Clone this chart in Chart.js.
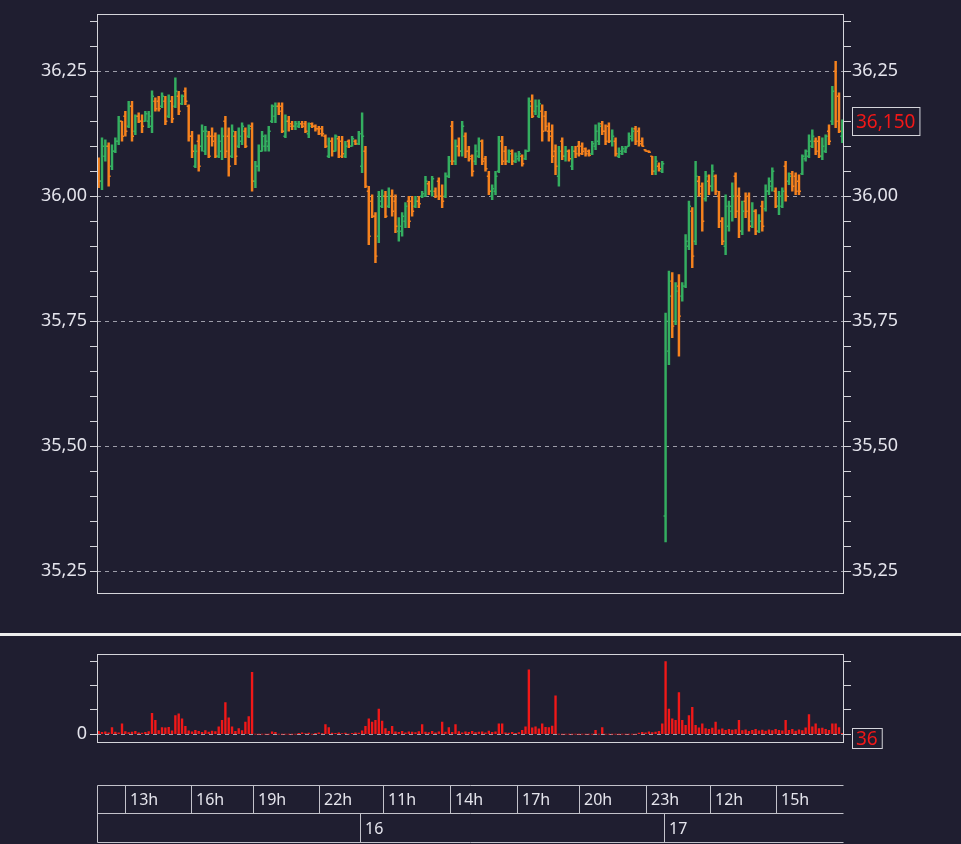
<!DOCTYPE html>
<html>
<head>
<meta charset="utf-8">
<title>Price / Volume</title>
<script src="https://cdn.jsdelivr.net/npm/chart.js@4.4.1/dist/chart.umd.min.js"></script>
<style>
  html, body { margin:0; padding:0; background:#1f1e30; }
  body { width:961px; height:844px; position:relative; overflow:hidden; }
  .wrap { position:absolute; left:0; width:961px; }
  #priceWrap { top:0; height:620px; }
  #volWrap { top:640px; height:204px; }
  #sep { position:absolute; left:0; top:633px; width:961px; height:3px; background:#ededed; }
</style>
</head>
<body>
<div class="wrap" id="priceWrap"><canvas id="price"></canvas></div>
<div id="sep"></div>
<div class="wrap" id="volWrap"><canvas id="vol"></canvas></div>
<script>
// ---------------- DATA ----------------
const opens = [
36.07,36.03,36.08,36.10,36.06,36.09,36.11,36.15,36.16,36.14,
36.18,36.13,36.16,36.15,36.15,36.15,36.14,36.19,36.19,36.18,
36.19,36.16,36.19,36.18,36.20,36.185,36.21,36.18,36.12,36.06,
36.11,36.10,36.09,36.12,36.12,36.12,36.08,36.09,36.15,36.12,
36.08,36.12,36.10,36.11,36.13,36.12,36.14,36.03,36.06,36.09,
36.10,36.10,36.15,36.16,36.18,36.18,36.12,36.15,36.145,36.14,
36.14,36.145,36.145,36.125,36.145,36.14,36.135,36.135,36.12,36.08,
36.11,36.09,36.115,36.11,36.08,36.11,36.10,36.11,36.105,36.06,
36.09,36.01,35.99,35.96,35.92,35.98,36.00,35.98,36.00,35.99,
35.93,35.93,35.95,35.99,35.99,35.98,35.99,36.00,36.00,36.025,
36.01,36.01,36.03,36.00,36.00,36.04,36.14,36.07,36.10,36.09,
36.12,36.09,36.08,36.07,36.08,36.11,36.075,36.04,36.00,36.01,
36.05,36.11,36.09,36.07,36.09,36.07,36.075,36.08,36.075,36.09,
36.19,36.17,36.16,36.17,36.16,36.13,36.13,36.09,36.04,36.11,
36.08,36.09,36.06,36.09,36.10,36.10,36.095,36.09,36.085,36.10,
36.11,36.145,36.13,36.14,36.11,36.11,36.08,36.085,36.09,36.10,
36.115,36.135,36.13,36.11,36.093,36.09,36.08,36.05,36.06,36.05,
35.36,35.69,35.83,35.75,35.82,35.80,35.82,35.90,35.97,35.91,
36.03,36.02,35.995,36.03,36.02,36.04,36.00,35.95,35.90,35.94,
35.97,36.04,36.00,35.93,35.99,36.00,35.95,35.97,35.93,35.98,
35.975,36.01,36.02,36.01,35.98,35.98,36.06,36.03,36.045,36.04,
36.03,36.045,36.075,36.08,36.10,36.11,36.11,36.08,36.09,36.13,
36.15,36.25,36.20,36.12
];
const highs = [
36.077,36.117,36.113,36.107,36.103,36.117,36.160,36.150,36.170,36.190,
36.190,36.163,36.167,36.163,36.170,36.170,36.211,36.197,36.200,36.207,
36.200,36.203,36.200,36.237,36.210,36.203,36.217,36.183,36.130,36.103,
36.123,36.143,36.140,36.130,36.137,36.127,36.123,36.137,36.160,36.137,
36.143,36.130,36.137,36.147,36.137,36.143,36.147,36.070,36.103,36.130,
36.123,36.140,36.183,36.187,36.187,36.187,36.163,36.160,36.150,36.150,
36.150,36.150,36.150,36.147,36.147,36.143,36.140,36.140,36.123,36.117,
36.117,36.123,36.120,36.120,36.110,36.113,36.120,36.113,36.130,36.167,
36.100,36.020,36.003,35.967,36.010,36.013,36.010,36.017,36.013,36.003,
35.957,35.967,35.987,36.000,36.000,36.000,36.000,36.010,36.040,36.030,
36.040,36.017,36.037,36.023,36.047,36.080,36.150,36.113,36.117,36.150,
36.127,36.100,36.083,36.103,36.117,36.113,36.080,36.050,36.023,36.050,
36.120,36.120,36.100,36.093,36.093,36.087,36.090,36.083,36.093,36.197,
36.203,36.193,36.193,36.183,36.170,36.147,36.143,36.103,36.100,36.117,
36.100,36.093,36.100,36.100,36.110,36.107,36.097,36.093,36.110,36.143,
36.147,36.150,36.143,36.147,36.133,36.117,36.097,36.100,36.100,36.127,
36.137,36.140,36.137,36.117,36.093,36.091,36.080,36.080,36.067,36.070,
35.766,35.850,35.847,35.827,35.843,35.827,35.923,35.990,35.977,36.070,
36.040,36.027,36.050,36.043,36.063,36.043,36.010,35.957,36.003,35.990,
36.027,36.047,36.017,35.990,36.007,36.007,35.987,35.973,35.963,35.990,
36.023,36.037,36.057,36.017,36.010,36.017,36.070,36.047,36.050,36.047,
36.043,36.083,36.093,36.123,36.133,36.117,36.120,36.117,36.123,36.143,
36.220,36.270,36.207,36.153
];
const lows = [
36.017,36.013,36.070,36.020,36.053,36.087,36.103,36.110,36.120,36.137,
36.110,36.123,36.147,36.127,36.150,36.137,36.127,36.170,36.170,36.177,
36.143,36.157,36.147,36.177,36.163,36.183,36.183,36.110,36.077,36.057,
36.050,36.090,36.083,36.077,36.100,36.077,36.077,36.073,36.077,36.040,
36.077,36.063,36.097,36.103,36.097,36.117,36.010,36.017,36.050,36.090,
36.090,36.090,36.147,36.147,36.163,36.127,36.117,36.130,36.133,36.133,
36.137,36.137,36.127,36.117,36.137,36.130,36.123,36.120,36.097,36.077,
36.080,36.090,36.077,36.077,36.077,36.097,36.100,36.103,36.103,36.047,
36.017,35.903,35.957,35.867,35.907,35.977,35.957,35.977,35.960,35.927,
35.910,35.920,35.937,35.937,35.960,35.977,35.977,35.997,36.000,36.003,
36.000,35.997,35.993,35.977,35.997,36.037,36.063,36.063,36.080,36.080,
36.077,36.070,36.040,36.063,36.077,36.063,36.050,36.003,35.993,36.003,
36.047,36.063,36.063,36.067,36.063,36.067,36.070,36.060,36.073,36.090,
36.157,36.163,36.157,36.110,36.130,36.110,36.067,36.043,36.020,36.073,
36.070,36.070,36.053,36.077,36.080,36.083,36.080,36.080,36.083,36.093,
36.103,36.123,36.103,36.107,36.100,36.080,36.077,36.083,36.087,36.100,
36.110,36.103,36.100,36.100,36.090,36.087,36.043,36.043,36.050,36.047,
35.308,35.663,35.717,35.743,35.680,35.790,35.817,35.893,35.857,35.903,
36.000,35.930,35.990,36.003,36.010,36.003,35.937,35.903,35.883,35.930,
35.950,35.957,35.917,35.923,35.957,35.930,35.937,35.923,35.927,35.930,
35.970,36.003,36.010,35.977,35.963,35.977,35.990,36.023,36.010,36.003,
36.003,36.043,36.070,36.077,36.097,36.083,36.077,36.073,36.087,36.103,
36.143,36.137,36.127,36.107
];
const closes = [
36.03,36.10,36.10,36.04,36.09,36.11,36.15,36.12,36.13,36.18,
36.12,36.16,36.15,36.14,36.165,36.16,36.20,36.175,36.175,36.20,
36.15,36.19,36.155,36.21,36.17,36.20,36.19,36.12,36.09,36.09,
36.06,36.13,36.13,36.08,36.11,36.08,36.11,36.12,36.09,36.06,
36.13,36.08,36.12,36.14,36.10,36.135,36.03,36.06,36.09,36.12,
36.11,36.13,36.18,36.18,36.17,36.13,36.15,36.14,36.14,36.145,
36.145,36.14,36.13,36.14,36.14,36.135,36.125,36.125,36.10,36.11,
36.09,36.12,36.08,36.085,36.10,36.10,36.115,36.105,36.125,36.12,
36.02,35.92,35.96,35.88,35.99,36.00,35.96,36.00,35.97,35.94,
35.94,35.96,35.98,35.95,35.97,35.99,35.985,36.005,36.03,36.01,
36.035,36.00,36.00,35.99,36.04,36.07,36.07,36.10,36.09,36.14,
36.09,36.075,36.05,36.09,36.11,36.07,36.055,36.01,36.015,36.04,
36.11,36.07,36.07,36.085,36.07,36.08,36.085,36.065,36.09,36.18,
36.16,36.18,36.185,36.13,36.14,36.12,36.08,36.06,36.09,36.08,
36.09,36.075,36.09,36.085,36.085,36.09,36.085,36.082,36.105,36.13,
36.14,36.13,36.11,36.11,36.12,36.085,36.09,36.095,36.097,36.12,
36.13,36.11,36.105,36.10,36.09,36.088,36.05,36.07,36.055,36.065,
35.75,35.80,35.74,35.81,35.76,35.82,35.91,35.98,35.88,36.04,
36.005,35.95,36.04,36.02,36.05,36.01,35.95,35.91,35.98,35.98,
36.00,35.97,35.93,35.97,35.97,35.94,35.97,35.93,35.95,35.94,
36.01,36.03,36.05,35.98,36.00,36.01,36.00,36.04,36.02,36.01,
36.01,36.08,36.09,36.11,36.12,36.09,36.08,36.10,36.12,36.11,
36.21,36.15,36.13,36.15
];
const volumes = [
120,80,100,60,270,90,60,430,110,70,
90,120,60,50,80,110,865,570,150,270,
260,280,140,770,840,635,325,140,100,160,
120,80,150,90,130,110,300,570,1310,675,
300,120,230,150,500,730,2550,0,0,0,
0,0,100,80,0,0,0,0,0,0,
40,60,30,50,0,40,60,30,400,270,
50,40,60,30,50,0,40,60,50,140,
325,635,500,570,1040,540,230,120,325,100,
80,120,60,100,90,70,110,400,90,70,
120,60,100,500,90,270,80,400,110,60,
100,80,120,70,90,100,60,130,80,100,
430,430,60,50,80,40,70,160,300,2660,
260,300,220,430,280,270,330,1580,0,0,
0,0,0,0,0,0,0,0,0,160,
0,270,0,0,0,0,0,0,0,0,
0,0,50,80,60,100,70,90,120,430,
3000,1040,635,570,1720,570,365,770,1110,365,
260,430,230,200,250,500,180,220,160,200,
170,190,570,150,180,120,160,200,140,170,
130,180,150,200,160,140,570,160,200,130,
180,150,260,810,300,430,230,250,200,160,
430,430,270,36
];
// time axis: labels and the bar index (10-min bars) where each starts
const hourLabels = ['13h','16h','19h','22h','11h','14h','17h','20h','23h','12h','15h'];
const hourTicks  = [7.9, 27.7, 46.3, 66.1, 85.3, 105.4, 125.5, 144.1, 164.1, 183.4, 203.2];
const dayLabels  = ['16','17'];
const dayTicks   = [78.4, 169.6];
// axis ranges and ticks
const priceMin = 35.204, priceMax = 36.365, priceStep = 0.05;
const volMin = -364, volMax = 3320;
const volTicks = [0, 1000, 2000, 3000];

// ---------------- STYLE ----------------
const GREEN = '#34ae60', ORANGE = '#f5821e', RED = '#f01818';
const TEXT = '#e4e4ec', LINE = '#d4d4da', GRID = 'rgba(200,200,210,0.75)', BG = '#1f1e30';
Chart.defaults.font.family = "'Noto Sans', 'Open Sans', sans-serif";
Chart.defaults.color = TEXT;
Chart.defaults.animation = false;

const N = closes.length;
const idx = closes.map((_, i) => i);
const barColor = i => closes[i] >= opens[i] ? GREEN : ORANGE;
const isMajor = v => Math.abs(v * 4 - Math.round(v * 4)) < 1e-6;
const fmt = (v, d) => v.toFixed(d).replace('.', ',');

const framePlugin = {
  id: 'frame',
  afterDraw(chart) {
    const a = chart.chartArea, ctx = chart.ctx;
    ctx.save();
    ctx.strokeStyle = LINE; ctx.lineWidth = 1;
    ctx.strokeRect(Math.round(a.left) + 0.5, Math.round(a.top) + 0.5,
                   Math.round(a.right - a.left) - 1, Math.round(a.bottom - a.top) - 1);
    ctx.restore();
  }
};

function lastValueBox(chart, scaleId, value, text, h, shift) {
  const ctx = chart.ctx, a = chart.chartArea;
  const y = chart.scales[scaleId].getPixelForValue(value) + shift;
  ctx.save();
  ctx.font = "19px 'Noto Sans', sans-serif";
  const w = ctx.measureText(text).width + 8;
  const x0 = Math.round(a.right) + 8.5, y0 = Math.round(y - h / 2) + 0.5;
  ctx.fillStyle = BG; ctx.fillRect(x0, y0, w, h);
  ctx.strokeStyle = LINE; ctx.lineWidth = 1; ctx.strokeRect(x0, y0, w, h);
  ctx.fillStyle = RED; ctx.textAlign = 'left'; ctx.textBaseline = 'middle';
  ctx.fillText(text, x0 + 3.5, y + 1);
  ctx.restore();
}

const priceLabelPlugin = {
  id: 'priceLabel',
  afterDraw(chart) { lastValueBox(chart, 'y', closes[N - 1], fmt(closes[N - 1], 3), 28, 0); }
};
const volLabelPlugin = {
  id: 'volLabel',
  afterDraw(chart) { lastValueBox(chart, 'y', volumes[N - 1], String(volumes[N - 1]), 20, 5); }
};

const timeAxisPlugin = {
  id: 'timeAxis',
  afterDraw(chart) {
    const x = chart.scales.x, a = chart.chartArea, ctx = chart.ctx;
    const top = Math.round(a.bottom) + 42.5, mid = top + 28, bot = mid + 29;
    const L = Math.round(x.getPixelForValue(x.min)) + 0.5;
    const R = Math.round(x.getPixelForValue(x.max)) - 0.5;
    ctx.save();
    ctx.strokeStyle = '#c2c2ca'; ctx.lineWidth = 1;
    ctx.beginPath();
    [top, mid, bot].forEach(y => { ctx.moveTo(L, y); ctx.lineTo(R, y); });
    ctx.moveTo(L, top); ctx.lineTo(L, bot);
    hourTicks.forEach(v => { const p = Math.round(x.getPixelForValue(v)) + 0.5; ctx.moveTo(p, top); ctx.lineTo(p, mid); });
    dayTicks.forEach(v => { const p = Math.round(x.getPixelForValue(v)) + 0.5; ctx.moveTo(p, mid); ctx.lineTo(p, bot); });
    ctx.stroke();
    ctx.fillStyle = TEXT; ctx.font = "16px 'Noto Sans', sans-serif";
    ctx.textAlign = 'left'; ctx.textBaseline = 'middle';
    hourTicks.forEach((v, k) => ctx.fillText(hourLabels[k], Math.round(x.getPixelForValue(v)) + 5, (top + mid) / 2 + 1));
    dayTicks.forEach((v, k) => ctx.fillText(dayLabels[k], Math.round(x.getPixelForValue(v)) + 5, (mid + bot) / 2 + 1));
    ctx.restore();
  }
};

function yAxis(pos, min, max, step, fixedTicks, major, label, width, withGrid) {
  const ax = {
    type: 'linear', position: pos, min: min, max: max,
    afterFit: s => { s.width = width; },
    border: { display: false, dash: [4, 4] },
    grid: {
      drawOnChartArea: withGrid,
      color: c => (c.tick && major(c.tick.value)) ? GRID : 'rgba(0,0,0,0)',
      tickColor: LINE, tickLength: 7, lineWidth: 1
    },
    ticks: {
      stepSize: step, autoSkip: false, includeBounds: false,
      padding: pos === 'left' ? 3 : 1, color: TEXT,
      font: { size: 18 },
      callback: v => major(v) ? label(v) : ''
    }
  };
  if (fixedTicks) ax.afterBuildTicks = s => { s.ticks = fixedTicks.map(v => ({ value: v })); };
  return ax;
}
const xAxis = { type: 'linear', min: -0.5, max: N - 0.5, offset: false, display: false };

new Chart(document.getElementById('price'), {
  type: 'bar',
  data: {
    datasets: [
      { type: 'bar', label: 'High-Low', data: idx.map(i => ({ x: i, y: [lows[i], highs[i]] })),
        backgroundColor: c => barColor(c.dataIndex), borderWidth: 0, barThickness: 1.8, grouped: false, order: 2 },
      { type: 'scatter', label: 'Open', data: idx.map(i => ({ x: i - 0.28, y: opens[i] })),
        pointStyle: 'line', radius: 1.1, borderWidth: 1.4, borderColor: c => barColor(c.dataIndex), showLine: false, order: 1 },
      { type: 'scatter', label: 'Close', data: idx.map(i => ({ x: i + 0.28, y: closes[i] })),
        pointStyle: 'line', radius: 1.1, borderWidth: 1.4, borderColor: c => barColor(c.dataIndex), showLine: false, order: 1 }
    ]
  },
  options: {
    responsive: true, maintainAspectRatio: false, events: [],
    layout: { padding: { top: 12, bottom: 26, left: 0, right: 0 } },
    plugins: { legend: { display: false }, tooltip: { enabled: false } },
    scales: {
      x: xAxis,
      y: yAxis('left', priceMin, priceMax, priceStep, null, isMajor, v => fmt(v, 2), 97, true),
      y2: yAxis('right', priceMin, priceMax, priceStep, null, isMajor, v => fmt(v, 2), 117, false)
    }
  },
  plugins: [framePlugin, priceLabelPlugin]
});

const volMajor = v => Math.abs(v) < 1e-9;
new Chart(document.getElementById('vol'), {
  type: 'bar',
  data: {
    datasets: [
      { label: 'Volume', data: idx.map(i => ({ x: i, y: volumes[i] })),
        backgroundColor: RED, borderWidth: 0, barThickness: 1.7 }
    ]
  },
  options: {
    responsive: true, maintainAspectRatio: false, events: [],
    layout: { padding: { top: 12, bottom: 101, left: 0, right: 0 } },
    plugins: { legend: { display: false }, tooltip: { enabled: false } },
    scales: {
      x: xAxis,
      y: yAxis('left', volMin, volMax, 1000, volTicks, volMajor, v => String(v), 97, true),
      y2: yAxis('right', volMin, volMax, 1000, volTicks, volMajor, v => '', 117, false)
    }
  },
  plugins: [framePlugin, volLabelPlugin, timeAxisPlugin]
});
</script>
</body>
</html>
